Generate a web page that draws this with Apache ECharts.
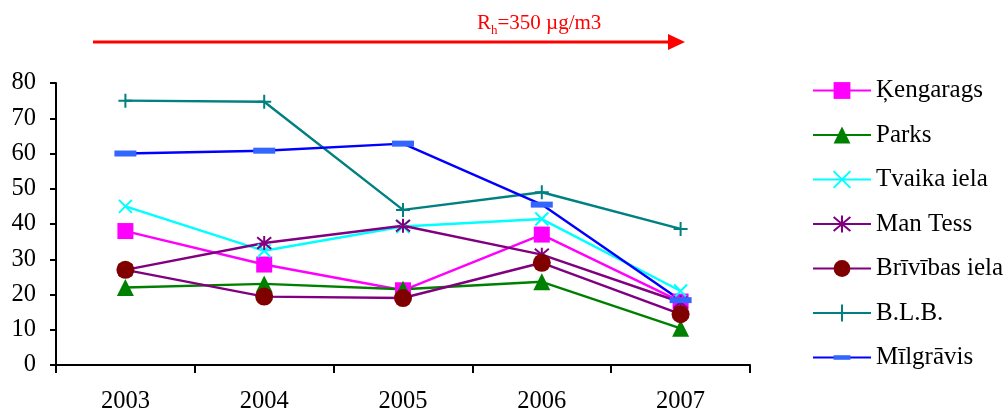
<!DOCTYPE html>
<html><head><meta charset="utf-8">
<script src="https://cdn.jsdelivr.net/npm/echarts@6/dist/echarts.min.js"></script>
<style>html,body{margin:0;padding:0;background:#fff}#c{width:1004px;height:414px}</style>
</head><body><div id="c"></div>
<script>
var years = ['2003','2004','2005','2006','2007'];
var yTicks = [0,10,20,30,40,50,60,70,80];
var kengarags = [38, 28.5, 21.2, 37, 18];
var parks = [22, 23, 21.5, 23.6, 10.4];
var tvaika = [45, 32.4, 39.3, 41.4, 21];
var manTess = [27, 34.6, 39.5, 31.3, 17.8];
var brivibas = [27, 19.4, 19, 29, 14.4];
var blb = [75, 74.7, 44, 49, 38.6];
var milgravis = [60, 60.8, 62.8, 45.5, 18.4];
var names = ['Ķengarags','Parks','Tvaika iela','Man Tess','Brīvības iela','B.L.B.','Mīlgrāvis'];

var chart = echarts.init(document.getElementById('c'), null, {renderer:'canvas'});
var serif = '"Liberation Serif","DejaVu Serif",serif';
function s(name, data, lineColor, markColor, symbol, size, stroke){
  return {
    name:name, type:'line', data:data, symbol:symbol, symbolSize:size,
    lineStyle:{color:lineColor, width:2.4},
    itemStyle: stroke ? {color:'none', borderColor:markColor, borderWidth:2} : {color:markColor, borderWidth:0},
    emphasis:{disabled:true}, animation:false, z: 2
  };
}
var option = {
  animation:false,
  grid:{left:56, right:254, top:83, bottom:47, containLabel:false},
  xAxis:{type:'category', data:years, boundaryGap:true,
    axisLine:{lineStyle:{color:'#000', width:2}},
    axisTick:{show:true, length:8, lineStyle:{color:'#000', width:2}},
    axisLabel:{color:'#000', fontFamily:serif, fontSize:24.5, margin:24}},
  yAxis:{type:'value', min:0, max:80, interval:10,
    axisLine:{show:true, lineStyle:{color:'#000', width:2}},
    axisTick:{show:true, length:6, lineStyle:{color:'#000', width:2}},
    splitLine:{show:false},
    axisLabel:{color:'#000', fontFamily:serif, fontSize:24.5, margin:20}},
  legend:{orient:'vertical', left:807, top:73, itemWidth:58, itemHeight:21, itemGap:19.5,
    textStyle:{color:'#000', fontFamily:serif, fontSize:25}, data:names},
  series:[
    s(names[0], kengarags, '#FF00FF', '#FF00FF', 'rect', 16, false),
    s(names[1], parks, '#008000', '#008000', 'triangle', 17, false),
    s(names[2], tvaika, '#00FFFF', '#00FFFF', 'path://M0,0L10,10M10,0L0,10', 13, true),
    s(names[3], manTess, '#800080', '#800080', 'path://M0,1L10,11M10,1L0,11M5,0L5,12', 14, true),
    s(names[4], brivibas, '#800080', '#800000', 'circle', 18, false),
    s(names[5], blb, '#008080', '#008080', 'path://M0,5L10,5M5,0L5,10', 14, true),
    s(names[6], milgravis, '#0000FF', '#3366FF', 'path://M0,0L0,0M0,8L22,8L22,14L0,14ZM22,22L22,22', 22, false)
  ],
  graphic:[
    {type:'line', shape:{x1:93, y1:42, x2:672, y2:42}, style:{stroke:'#FF0000', lineWidth:3}},
    {type:'polygon', shape:{points:[[668,34],[685,42],[668,50]]}, style:{fill:'#FF0000'}},
    {type:'text', left:477, top:13, style:{
      text:'{a|R}{b|h}{a|=350 µg/m3}',
      rich:{a:{fontFamily:serif, fontSize:21, fill:'#FF0000', verticalAlign:'bottom'},
            b:{fontFamily:serif, fontSize:13, fill:'#FF0000', verticalAlign:'bottom', padding:[0,0,-3,0]}}}}
  ]
};
chart.setOption(option);
</script></body></html>
